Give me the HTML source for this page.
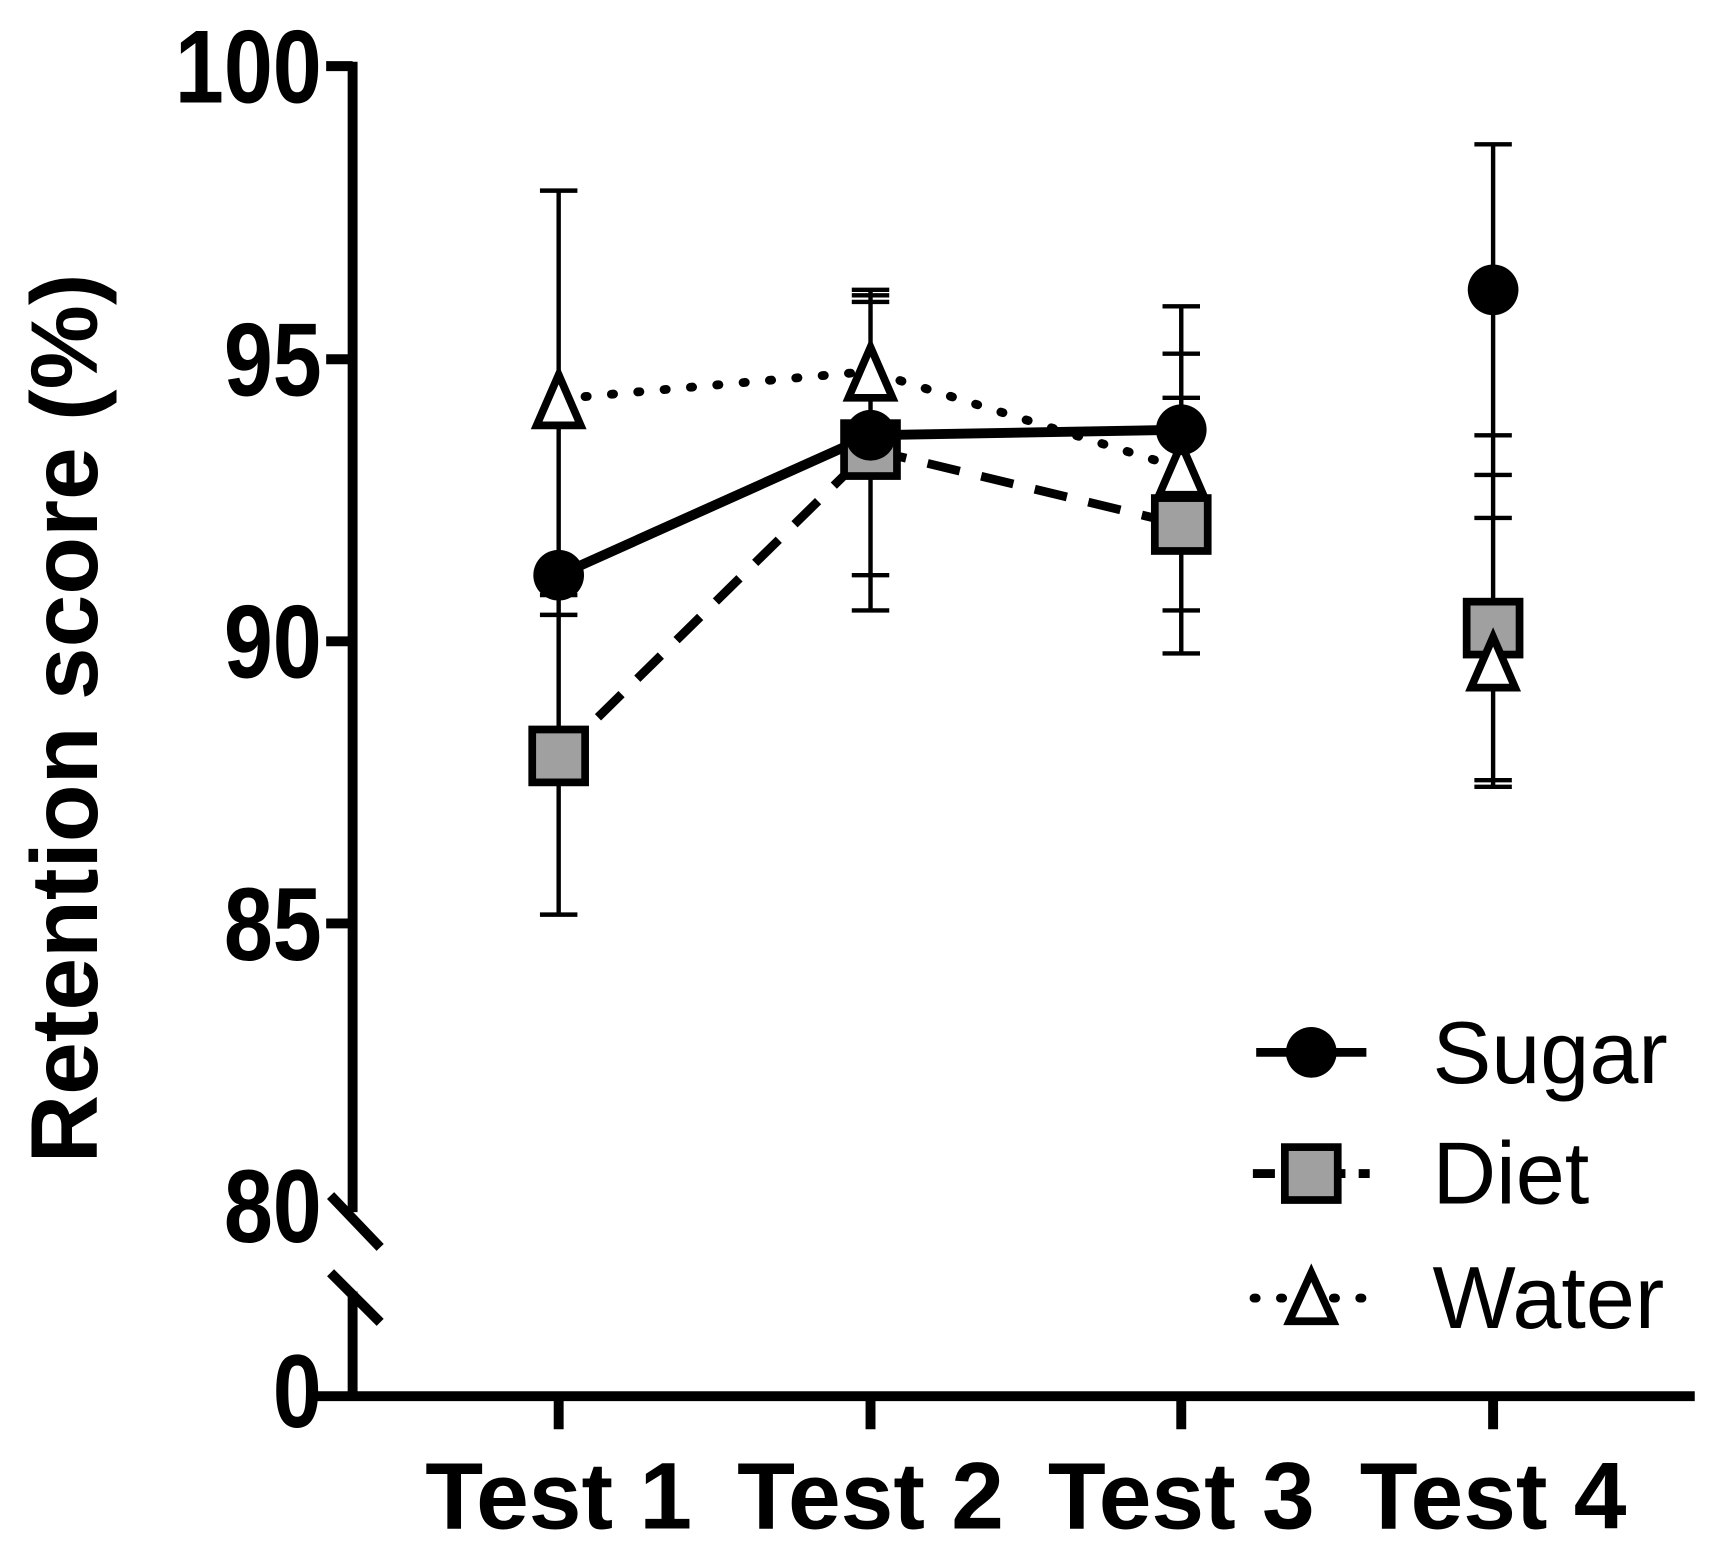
<!DOCTYPE html>
<html><head><style>html,body{margin:0;padding:0;background:#fff}svg{display:block}</style></head>
<body>
<svg width="1719" height="1549" viewBox="0 0 1560 1405.7" preserveAspectRatio="none" xmlns="http://www.w3.org/2000/svg" font-family="Liberation Sans, Arial, sans-serif">
<rect width="1560" height="1406" fill="#fff"/>
<g stroke="#000" stroke-width="9" fill="none">
<line x1="320" y1="56" x2="320" y2="1100"/>
<line x1="320" y1="1172" x2="320" y2="1271"/>
<line x1="288" y1="1267" x2="1538" y2="1267"/>
<line x1="296" y1="60" x2="320" y2="60"/>
<line x1="296" y1="326" x2="320" y2="326"/>
<line x1="296" y1="582" x2="320" y2="582"/>
<line x1="296" y1="838" x2="320" y2="838"/>
<line x1="300" y1="1085" x2="345" y2="1132"/>
<line x1="300" y1="1155" x2="345" y2="1200"/>
<line x1="507" y1="1267" x2="507" y2="1297"/>
<line x1="790" y1="1267" x2="790" y2="1297"/>
<line x1="1072" y1="1267" x2="1072" y2="1297"/>
<line x1="1355" y1="1267" x2="1355" y2="1297"/>
</g>
<g font-weight="bold" font-size="94" text-anchor="end">
<text transform="translate(292,93) scale(0.85,1)">100</text>
<text transform="translate(292,359) scale(0.85,1)">95</text>
<text transform="translate(292,615) scale(0.85,1)">90</text>
<text transform="translate(292,871) scale(0.85,1)">85</text>
<text transform="translate(292,1127) scale(0.85,1)">80</text>
<text transform="translate(292,1295) scale(0.85,1)">0</text>
</g>
<g font-weight="bold" font-size="86" text-anchor="middle">
<text x="507" y="1387">Test 1</text>
<text x="790" y="1387">Test 2</text>
<text x="1072" y="1387">Test 3</text>
<text x="1355" y="1387">Test 4</text>
</g>
<text transform="translate(88,652) rotate(-90)" font-weight="bold" font-size="86" text-anchor="middle">Retention score  (%)</text>
<g stroke="#000" stroke-width="4" fill="none">
<line x1="507" y1="173" x2="507" y2="830"/>
<line x1="490" y1="173" x2="524" y2="173"/><line x1="490" y1="540" x2="524" y2="540"/><line x1="490" y1="558" x2="524" y2="558"/><line x1="490" y1="830" x2="524" y2="830"/>
<line x1="790" y1="263" x2="790" y2="554"/>
<line x1="773" y1="263" x2="807" y2="263"/><line x1="773" y1="268" x2="807" y2="268"/><line x1="773" y1="274" x2="807" y2="274"/><line x1="773" y1="522" x2="807" y2="522"/><line x1="773" y1="554" x2="807" y2="554"/>
<line x1="1072" y1="278" x2="1072" y2="593"/>
<line x1="1055" y1="278" x2="1089" y2="278"/><line x1="1055" y1="321" x2="1089" y2="321"/><line x1="1055" y1="361" x2="1089" y2="361"/><line x1="1055" y1="554" x2="1089" y2="554"/><line x1="1055" y1="593" x2="1089" y2="593"/>
<line x1="1355" y1="131" x2="1355" y2="714"/>
<line x1="1338" y1="131" x2="1372" y2="131"/><line x1="1338" y1="395" x2="1372" y2="395"/><line x1="1338" y1="431" x2="1372" y2="431"/><line x1="1338" y1="470" x2="1372" y2="470"/><line x1="1338" y1="708" x2="1372" y2="708"/><line x1="1338" y1="714" x2="1372" y2="714"/>
</g>
<polyline points="507,362 790,337 1072,425" stroke="#000" stroke-width="8" stroke-dasharray="2 22" stroke-linecap="round" fill="none"/>
<polyline points="507,686 790,408 1072,476" stroke="#000" stroke-width="8" stroke-dasharray="30 20" fill="none"/>
<polyline points="507,522 790,395 1072,390" stroke="#000" stroke-width="9" fill="none"/>
<g stroke="#000" stroke-width="7">
<rect x="483" y="662" width="48" height="48" fill="#a0a0a0"/>
<rect x="766" y="384" width="48" height="48" fill="#a0a0a0"/>
<rect x="1048" y="452" width="48" height="48" fill="#a0a0a0"/>
<rect x="1331" y="546" width="48" height="48" fill="#a0a0a0"/>
<polygon points="507,340 487,386 527,386" fill="#fff"/>
<polygon points="790,315 770,361 810,361" fill="#fff"/>
<polygon points="1072,403 1052,449 1092,449" fill="#fff"/>
<polygon points="1355,578 1335,624 1375,624" fill="#fff"/>
</g>
<g fill="#000">
<circle cx="507" cy="522" r="23"/>
<circle cx="790" cy="395" r="23"/>
<circle cx="1072" cy="390" r="23"/>
<circle cx="1355" cy="263" r="23"/>
</g>
<line x1="1140" y1="955" x2="1240" y2="955" stroke="#000" stroke-width="8"/>
<circle cx="1190" cy="955" r="23"/>
<line x1="1137" y1="1065" x2="1243" y2="1065" stroke="#000" stroke-width="8" stroke-dasharray="20 12"/>
<rect x="1166" y="1041" width="48" height="48" fill="#a0a0a0" stroke="#000" stroke-width="7"/>
<line x1="1138" y1="1178" x2="1242" y2="1178" stroke="#000" stroke-width="8" stroke-dasharray="2 22" stroke-linecap="round"/>
<polygon points="1190,1155 1170,1199 1210,1199" fill="#fff" stroke="#000" stroke-width="7"/>
<g font-size="80">
<text x="1300" y="983">Sugar</text>
<text x="1300" y="1092">Diet</text>
<text x="1300" y="1205">Water</text>
</g>
</svg>
</body></html>
